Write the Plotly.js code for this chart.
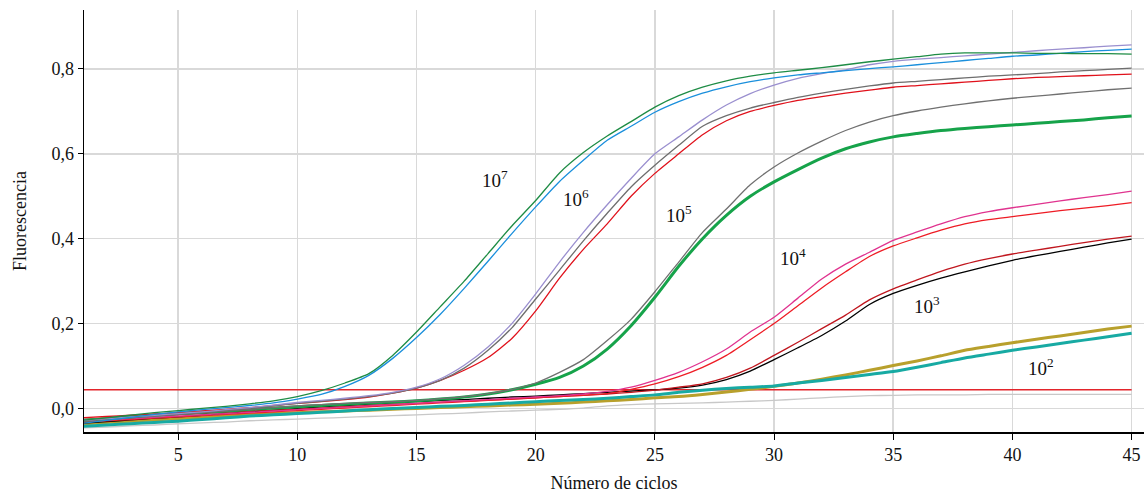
<!DOCTYPE html>
<html>
<head>
<meta charset="utf-8">
<script src="https://cdn.plot.ly/plotly-3.0.1.min.js"></script>
<style>html,body{margin:0;padding:0;background:#fff;}#chart{width:1144px;height:493px;}</style>
</head>
<body>
<div id="chart"></div>
<script>
const cycles = Array.from({length: 45}, (_, i) => i + 1);
const threshold = 0.044;

const g7 = [-0.028,-0.022,-0.016,-0.010,-0.005,0.000,0.005,0.011,0.018,0.028,0.042,0.060,0.082,0.125,0.180,0.240,0.300,0.365,0.430,0.490,0.555,0.603,0.642,0.676,0.710,0.737,0.757,0.772,0.783,0.791,0.797,0.803,0.810,0.817,0.823,0.829,0.835,0.838,0.838,0.838,0.837,0.837,0.836,0.836,0.835];
const b7 = [-0.035,-0.028,-0.021,-0.014,-0.008,-0.003,0.002,0.007,0.013,0.022,0.033,0.052,0.078,0.118,0.167,0.222,0.283,0.347,0.412,0.475,0.535,0.585,0.632,0.665,0.698,0.723,0.743,0.758,0.770,0.779,0.786,0.791,0.796,0.801,0.805,0.810,0.815,0.820,0.825,0.830,0.833,0.837,0.841,0.844,0.847];
const l6 = [-0.028,-0.024,-0.020,-0.016,-0.012,-0.008,-0.003,0.002,0.008,0.014,0.019,0.024,0.030,0.038,0.050,0.070,0.102,0.145,0.200,0.270,0.345,0.415,0.480,0.542,0.600,0.640,0.680,0.715,0.742,0.762,0.778,0.789,0.798,0.810,0.818,0.823,0.827,0.831,0.835,0.839,0.843,0.847,0.850,0.854,0.857];
const gy6 = [-0.030,-0.026,-0.022,-0.018,-0.014,-0.010,-0.005,0.000,0.006,0.012,0.017,0.022,0.028,0.036,0.048,0.066,0.095,0.137,0.190,0.258,0.326,0.395,0.460,0.522,0.573,0.620,0.665,0.690,0.708,0.721,0.733,0.743,0.752,0.760,0.767,0.771,0.775,0.779,0.783,0.786,0.789,0.793,0.796,0.799,0.802];
const r6 = [-0.022,-0.019,-0.016,-0.013,-0.010,-0.006,-0.002,0.002,0.007,0.012,0.016,0.021,0.027,0.036,0.048,0.066,0.090,0.120,0.165,0.230,0.307,0.375,0.435,0.500,0.554,0.600,0.645,0.678,0.700,0.714,0.726,0.735,0.743,0.750,0.757,0.761,0.765,0.769,0.773,0.777,0.780,0.782,0.784,0.786,0.788];
const gy5 = [-0.030,-0.026,-0.022,-0.018,-0.014,-0.010,-0.006,-0.002,0.002,0.006,0.009,0.012,0.014,0.016,0.019,0.023,0.028,0.035,0.045,0.060,0.085,0.115,0.160,0.210,0.275,0.345,0.415,0.470,0.527,0.569,0.602,0.630,0.655,0.675,0.690,0.701,0.710,0.718,0.725,0.731,0.736,0.741,0.746,0.751,0.755];
const g5 = [-0.028,-0.024,-0.020,-0.016,-0.012,-0.009,-0.006,-0.002,0.001,0.004,0.007,0.010,0.013,0.015,0.018,0.022,0.027,0.034,0.044,0.057,0.073,0.100,0.140,0.195,0.262,0.335,0.400,0.455,0.500,0.534,0.563,0.590,0.612,0.628,0.640,0.648,0.655,0.660,0.664,0.668,0.672,0.676,0.680,0.685,0.689];
const p4 = [-0.030,-0.027,-0.024,-0.021,-0.018,-0.015,-0.012,-0.009,-0.006,-0.003,0.000,0.003,0.006,0.009,0.012,0.015,0.018,0.021,0.024,0.027,0.030,0.034,0.040,0.050,0.066,0.085,0.110,0.140,0.180,0.215,0.260,0.305,0.340,0.368,0.396,0.416,0.435,0.452,0.464,0.473,0.481,0.489,0.497,0.504,0.512];
const r4 = [-0.032,-0.029,-0.026,-0.023,-0.020,-0.017,-0.014,-0.011,-0.008,-0.005,-0.002,0.001,0.004,0.007,0.010,0.013,0.016,0.019,0.022,0.025,0.028,0.031,0.035,0.045,0.058,0.075,0.097,0.125,0.162,0.200,0.242,0.284,0.322,0.358,0.383,0.402,0.420,0.435,0.445,0.452,0.459,0.466,0.472,0.478,0.485];
const dr3 = [-0.026,-0.023,-0.020,-0.017,-0.015,-0.012,-0.009,-0.006,-0.004,-0.002,0.001,0.004,0.007,0.010,0.012,0.015,0.017,0.020,0.022,0.025,0.028,0.031,0.034,0.038,0.043,0.050,0.058,0.073,0.095,0.125,0.156,0.188,0.220,0.256,0.282,0.303,0.323,0.340,0.353,0.364,0.373,0.382,0.391,0.399,0.406];
const k3 = [-0.035,-0.031,-0.027,-0.023,-0.020,-0.016,-0.012,-0.008,-0.004,0.000,0.004,0.007,0.010,0.013,0.016,0.019,0.021,0.024,0.027,0.029,0.032,0.035,0.038,0.041,0.044,0.048,0.055,0.068,0.088,0.115,0.143,0.172,0.206,0.245,0.271,0.290,0.307,0.322,0.336,0.349,0.360,0.370,0.380,0.390,0.399];
const o2 = [-0.036,-0.033,-0.030,-0.027,-0.024,-0.021,-0.018,-0.015,-0.012,-0.010,-0.008,-0.006,-0.004,-0.002,0.000,0.002,0.004,0.006,0.008,0.010,0.012,0.015,0.018,0.021,0.025,0.028,0.033,0.039,0.045,0.052,0.060,0.069,0.079,0.090,0.101,0.112,0.124,0.137,0.146,0.155,0.163,0.171,0.179,0.187,0.194];
const t2 = [-0.042,-0.039,-0.036,-0.033,-0.030,-0.026,-0.022,-0.018,-0.015,-0.012,-0.009,-0.006,-0.003,0.000,0.002,0.005,0.007,0.010,0.013,0.016,0.019,0.021,0.024,0.028,0.032,0.038,0.043,0.047,0.050,0.053,0.060,0.066,0.073,0.080,0.087,0.097,0.108,0.119,0.128,0.137,0.145,0.153,0.161,0.169,0.177];
const ntc = [-0.046,-0.044,-0.041,-0.039,-0.036,-0.034,-0.032,-0.029,-0.027,-0.025,-0.023,-0.021,-0.019,-0.017,-0.015,-0.013,-0.011,-0.008,-0.006,-0.004,-0.002,0.001,0.006,0.009,0.011,0.012,0.013,0.015,0.017,0.019,0.022,0.025,0.028,0.030,0.031,0.032,0.032,0.032,0.033,0.033,0.033,0.033,0.033,0.033,0.033];

const labels = ['10<sup>7</sup>','10<sup>6</sup>','10<sup>5</sup>','10<sup>4</sup>','10<sup>3</sup>','10<sup>2</sup>'];
const labelX = [18.3, 21.7, 26.0, 30.8, 36.4, 41.2];
const labelY = [0.54, 0.495, 0.458, 0.356, 0.243, 0.097];

function tr(y, color, width) {
  return {x: cycles, y: y, type: 'scatter', mode: 'lines',
          line: {color: color, width: width, shape: 'spline', smoothing: 0.6},
          hoverinfo: 'skip', showlegend: false};
}

const data = [
  tr(ntc, '#c8c8c8', 1.3),
  {x: [cycles[0], cycles[cycles.length-1]], y: [threshold, threshold], type: 'scatter', mode: 'lines',
   line: {color: '#e3242b', width: 1.5}, hoverinfo: 'skip', showlegend: false},
  tr(o2, '#b8a02c', 3),
  tr(t2, '#17aaa3', 3),
  tr(k3, '#000000', 1.3),
  tr(dr3, '#c0161e', 1.3),
  tr(r4, '#ee1c25', 1.3),
  tr(p4, '#e0338f', 1.3),
  tr(g5, '#16a34a', 3),
  tr(gy5, '#707070', 1.3),
  tr(r6, '#e0111b', 1.3),
  tr(gy6, '#6e6e6e', 1.3),
  tr(l6, '#9a8fcf', 1.3),
  tr(b7, '#1a8fdc', 1.3),
  tr(g7, '#1e8c45', 1.3)
];

const annotations = labels.map((t, i) => ({
  x: labelX[i], y: labelY[i], xref: 'x', yref: 'y', text: t, showarrow: false,
  font: {family: 'Liberation Serif, serif', size: 19, color: '#111'}
}));

const layout = {
  width: 1144, height: 493,
  margin: {l: 84, r: 0, t: 10, b: 61},
  paper_bgcolor: '#fff', plot_bgcolor: '#fff',
  separators: ',.',
  font: {family: 'Liberation Serif, serif', size: 18, color: '#111'},
  xaxis: {
    range: [1.05, 45.52], tick0: 5, dtick: 5, tickmode: 'linear',
    showgrid: true, gridcolor: '#d9d9d9', gridwidth: 1.5, zeroline: false,
    showline: true, linecolor: '#000', linewidth: 1.5,
    ticks: 'outside', ticklen: 6, tickcolor: '#000', tickwidth: 1,
    title: {text: 'Número de ciclos', font: {size: 18}, standoff: 12},
    tickfont: {size: 18}
  },
  yaxis: {
    range: [-0.0555, 0.939], tick0: 0, dtick: 0.2, tickmode: 'linear', tickformat: '.1f',
    showgrid: true, gridcolor: '#d9d9d9', gridwidth: 1.5, zeroline: false,
    showline: true, linecolor: '#000', linewidth: 1.5,
    ticks: 'outside', ticklen: 5, tickcolor: '#000', tickwidth: 1,
    title: {text: 'Fluorescencia', font: {size: 18}, standoff: 20},
    tickfont: {size: 18}
  },
  annotations: annotations
};

Plotly.newPlot('chart', data, layout, {displayModeBar: false, staticPlot: true});
</script>
</body>
</html>
